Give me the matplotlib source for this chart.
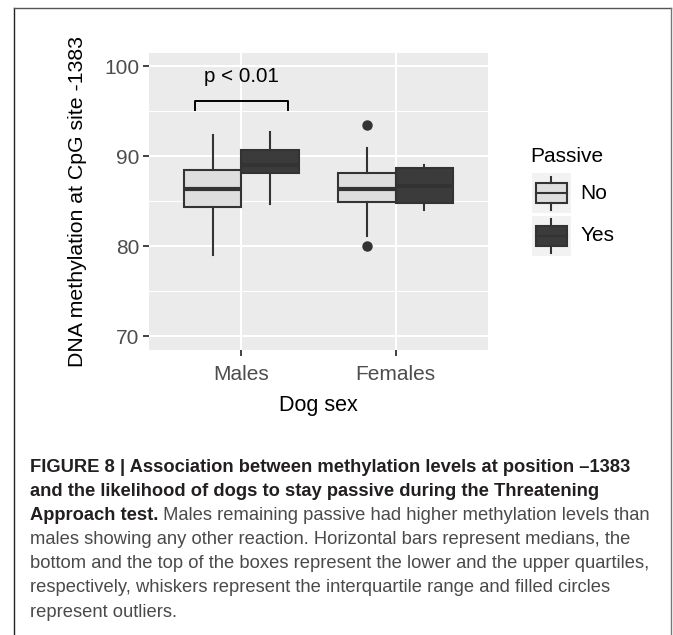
import matplotlib
matplotlib.use("Agg")
import matplotlib.pyplot as plt
from matplotlib.lines import Line2D
from matplotlib.patches import Rectangle

plt.rcParams["font.family"] = ["Liberation Sans", "DejaVu Sans"]

# summary statistics per sex (Males, Females) and passive group
sexes = ["Males", "Females"]
passive_levels = ["No", "Yes"]

no_whislo = [79.0, 81.1]
no_q1 = [84.4, 84.9]
no_med = [86.4, 86.4]
no_q3 = [88.5, 88.1]
no_whishi = [92.4, 90.9]
no_fliers = [[], [80.0, 93.5]]

yes_whislo = [84.7, 84.0]
yes_q1 = [88.1, 84.8]
yes_med = [89.0, 86.7]
yes_q3 = [90.7, 88.7]
yes_whishi = [92.7, 89.0]
yes_fliers = [[], []]

y_ticks = [70, 80, 90, 100]
y_minor = [75, 85, 95]

# significance bracket between the two male boxes
bracket_x = [0.7, 1.3]
bracket_y = [95.1, 96.1]
p_label = "p < 0.01"
p_label_y = 98.9

fills = {"No": "#dedede", "Yes": "#3b3b3b"}
edge = "#333333"

caption_bold = [
    "FIGURE 8 | Association between methylation levels at position \u20131383",
    "and the likelihood of dogs to stay passive during the Threatening",
    "Approach test.",
]
caption_regular = [
    " Males remaining passive had higher methylation levels than",
    "males showing any other reaction. Horizontal bars represent medians, the",
    "bottom and the top of the boxes represent the lower and the upper quartiles,",
    "respectively, whiskers represent the interquartile range and filled circles",
    "represent outliers.",
]


def stats_for(whislo, q1, med, q3, whishi, fliers):
    return [dict(whislo=a, q1=b, med=c, q3=d, whishi=e, fliers=f)
            for a, b, c, d, e, f in zip(whislo, q1, med, q3, whishi, fliers)]


fig = plt.figure(figsize=(6.73, 6.35), dpi=100)
ax = fig.add_axes([0.2214, 0.4488, 0.5037, 0.4682])
ax.set_facecolor("#ebebeb")

centers = list(range(1, len(sexes) + 1))
box_w = 0.375
groups = {
    "No": stats_for(no_whislo, no_q1, no_med, no_q3, no_whishi, no_fliers),
    "Yes": stats_for(yes_whislo, yes_q1, yes_med, yes_q3, yes_whishi, yes_fliers),
}
for i, level in enumerate(passive_levels):
    off = (i - 0.5) * box_w
    ax.bxp(groups[level], positions=[c + off for c in centers], widths=box_w,
           patch_artist=True, showcaps=False, manage_ticks=False,
           boxprops=dict(facecolor=fills[level], edgecolor=edge, linewidth=1.5),
           whiskerprops=dict(color=edge, linewidth=1.5),
           medianprops=dict(color=edge, linewidth=3.0, solid_capstyle="butt"),
           flierprops=dict(marker="o", markerfacecolor=edge, markeredgecolor=edge,
                           markersize=6.5))

ax.plot([bracket_x[0], bracket_x[0], bracket_x[1], bracket_x[1]],
        [bracket_y[0], bracket_y[1], bracket_y[1], bracket_y[0]],
        color="black", lw=1.4)
ax.text(sum(bracket_x) / 2, p_label_y, p_label, ha="center", va="center",
        fontsize=14.8, color="black")

ax.set_xlim(0.4, 2.6)
ax.set_ylim(68.5, 101.5)
ax.set_xticks(centers)
ax.set_xticklabels(sexes)
ax.set_yticks(y_ticks)
ax.set_yticks(y_minor, minor=True)
ax.grid(True, which="major", color="white", lw=1.5)
ax.grid(True, which="minor", axis="y", color="white", lw=0.75)
ax.set_axisbelow(True)
for s in ax.spines.values():
    s.set_visible(False)
ax.tick_params(which="major", length=4, width=1.3, color="#333333",
               labelsize=15, labelcolor="#4d4d4d", pad=3)
ax.tick_params(axis="x", which="major", pad=6.5)
ax.tick_params(which="minor", length=0)
ax.set_xlabel("Dog sex", fontsize=15.5, labelpad=8)
ax.set_ylabel("DNA methylation at CpG site -1383", fontsize=15.3, labelpad=12.5)

# legend keys
fig.text(0.788, 0.753, "Passive", fontsize=15, va="center", ha="left")
key_bottoms = [0.664, 0.597]
for level, kb in zip(passive_levels, key_bottoms):
    kax = fig.add_axes([0.790, kb, 0.0584, 0.063])
    kax.set_xlim(0, 1)
    kax.set_ylim(0, 1)
    kax.axis("off")
    kax.add_patch(Rectangle((0, 0), 1, 1, facecolor="#f2f2f2", edgecolor="none"))
    kax.plot([0.5, 0.5], [0.08, 0.25], color=edge, lw=1.5)
    kax.plot([0.5, 0.5], [0.75, 0.92], color=edge, lw=1.5)
    kax.add_patch(Rectangle((0.1, 0.25), 0.8, 0.5, facecolor=fills[level],
                            edgecolor=edge, lw=1.5))
    kax.plot([0.1, 0.9], [0.5, 0.5], color=edge, lw=1.5)
    fig.text(0.862, kb + 0.0315, level, fontsize=15, va="center", ha="left")

# caption block
cap_x = 30 / 673
line_h = 24.2 / 635
top_y = 1 - 467 / 635
cap_size = 13.2
for k, t in enumerate(caption_bold):
    fig.text(cap_x, top_y - k * line_h, t, fontsize=cap_size, fontweight="bold",
             color="#231f20", va="center", ha="left")
fig.canvas.draw()
renderer = fig.canvas.get_renderer()
last_bold = fig.texts[-1]
bb = last_bold.get_window_extent(renderer)
x_after = bb.x1 / fig.bbox.width
for k, t in enumerate(caption_regular):
    row = len(caption_bold) - 1 + k
    x0 = x_after if k == 0 else cap_x
    fig.text(x0, top_y - row * line_h, t.lstrip() if k else t, fontsize=cap_size,
             color="#4a4a4a", va="center", ha="left")

# frame around the figure panel
fl, ft, fr = 14 / 673, 1 - 8 / 635, 671 / 673
fig.add_artist(Line2D([fl, fl], [0, ft], color="#222222", lw=1.0,
                      transform=fig.transFigure))
fig.add_artist(Line2D([fl, fr], [ft, ft], color="#555555", lw=1.0,
                      transform=fig.transFigure))
fig.add_artist(Line2D([fr, fr], [0, ft], color="#777777", lw=1.0,
                      transform=fig.transFigure))

fig.savefig("out.png", dpi=100)
